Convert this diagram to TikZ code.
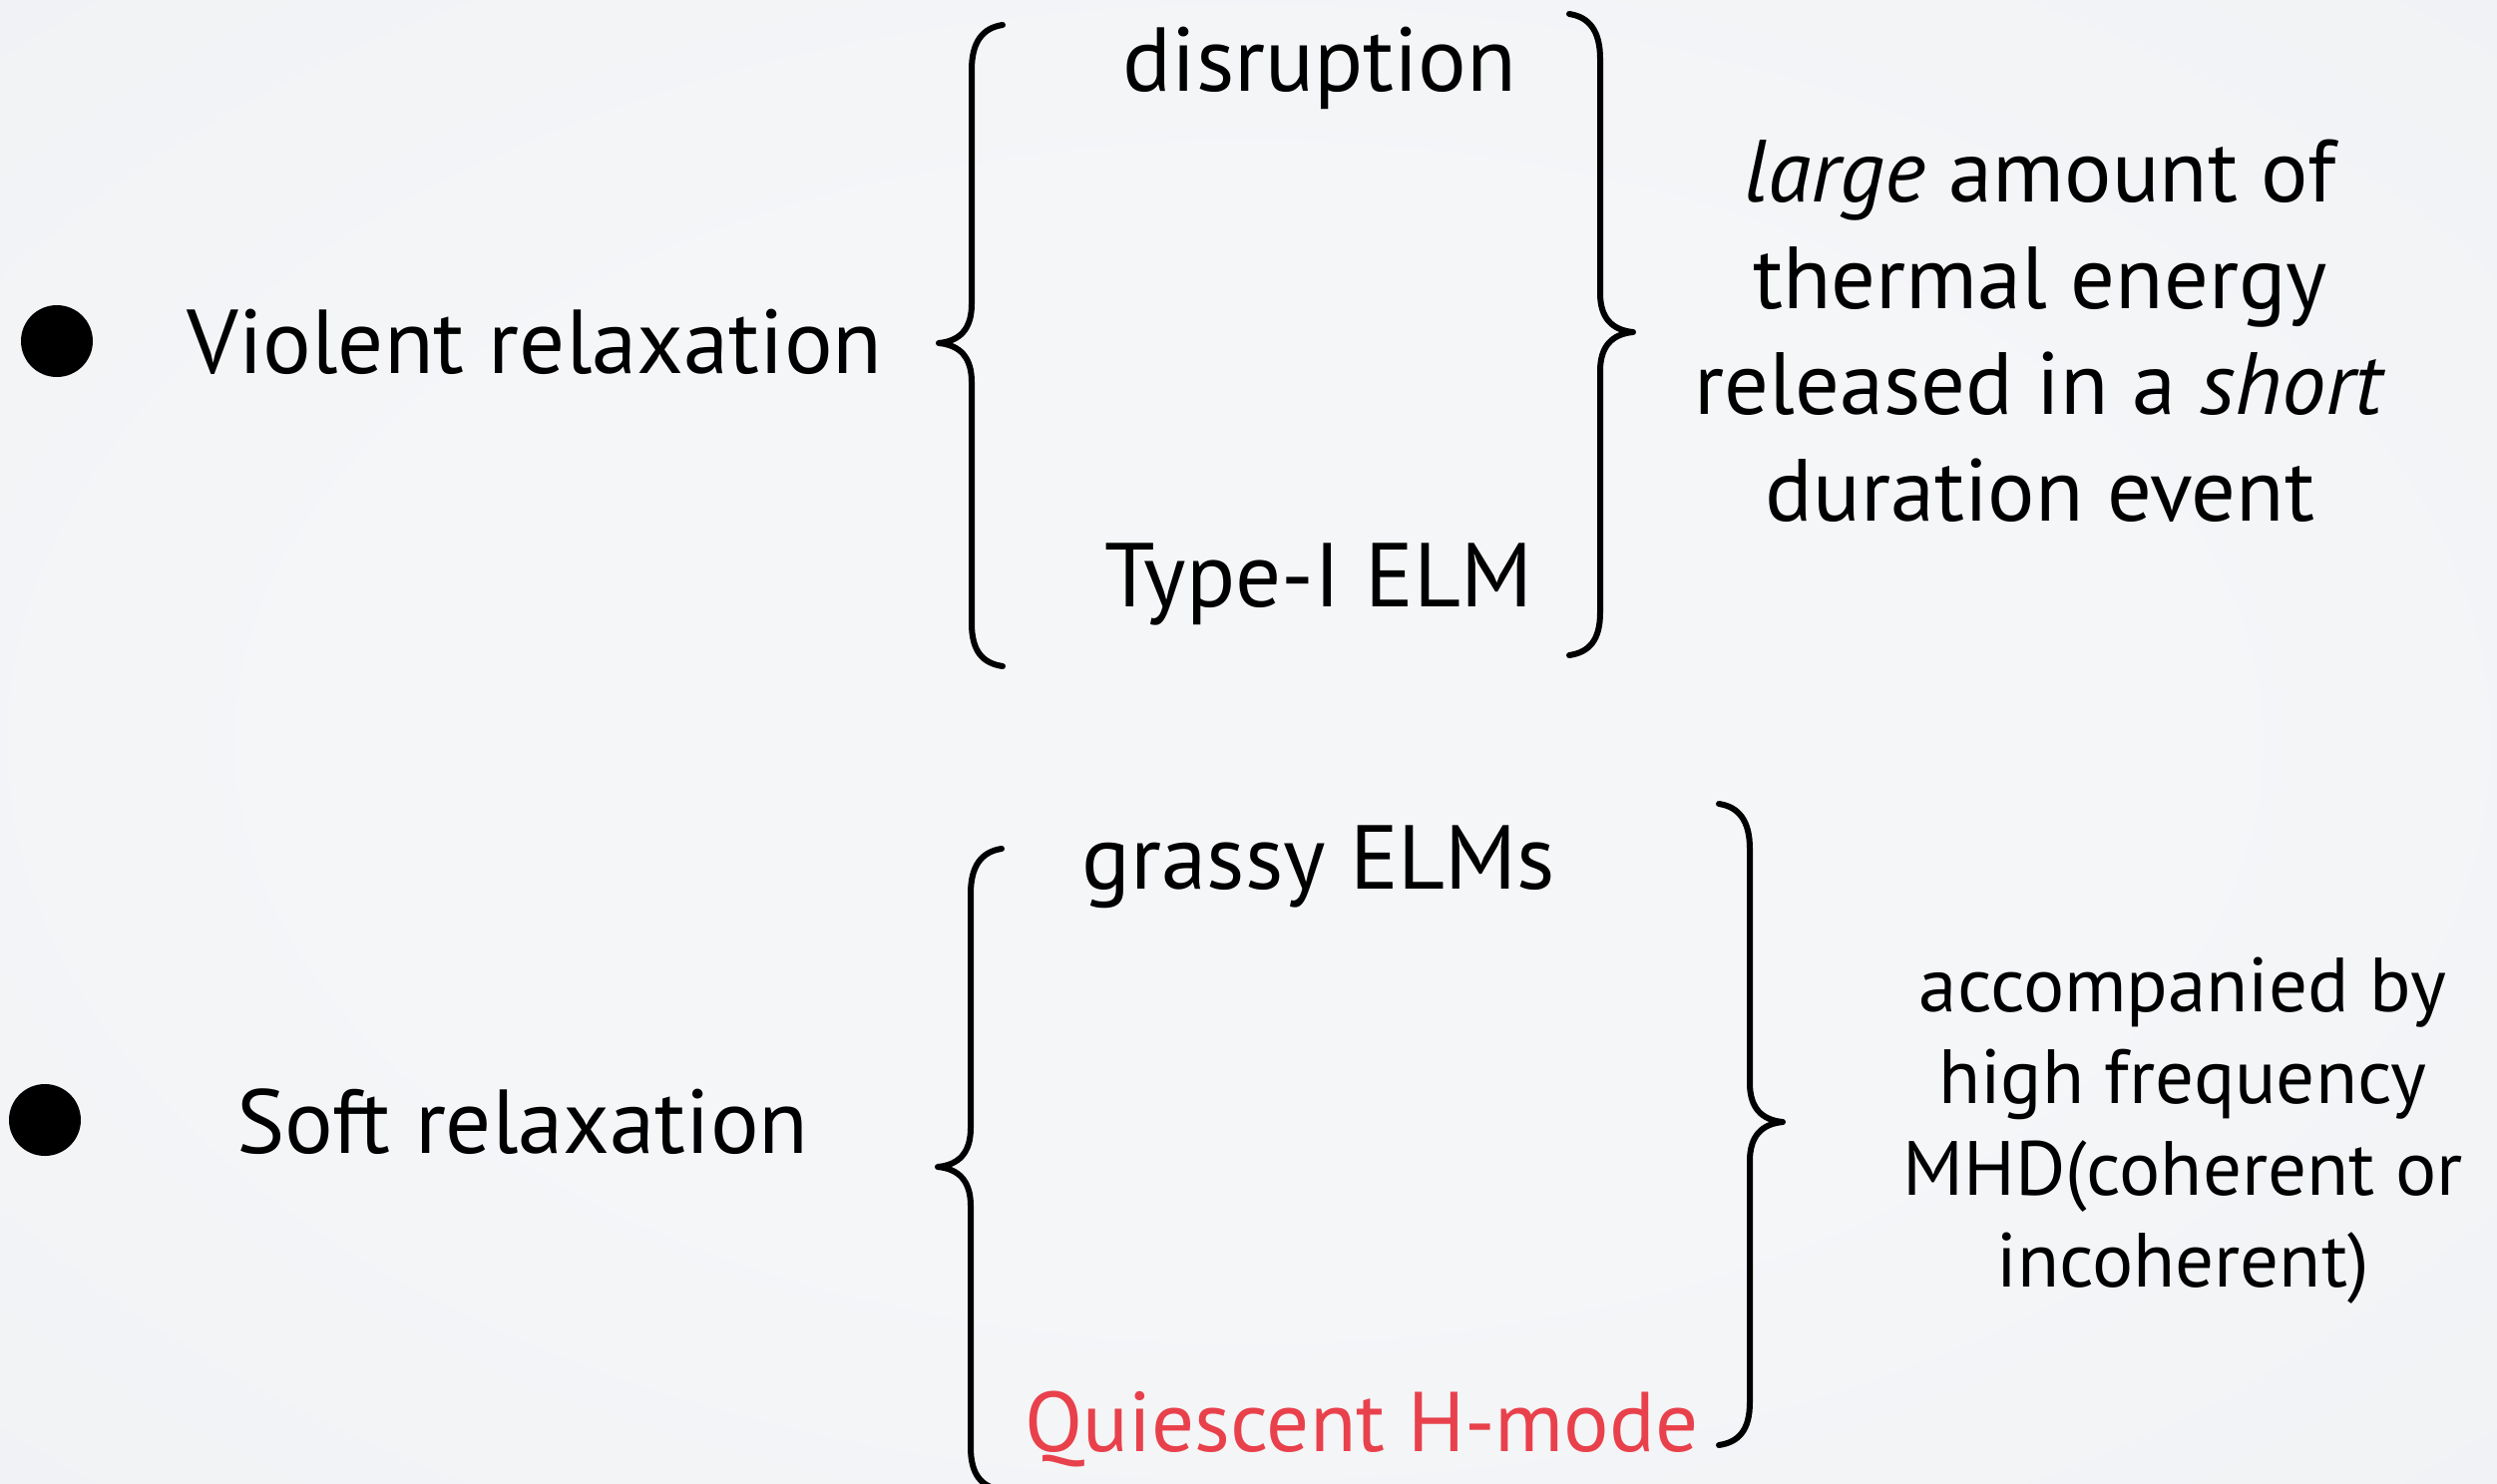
\documentclass[tikz,border=0pt]{standalone}
\usepackage{fontspec}
\setmainfont{PT Sans}
\definecolor{bgin}{RGB}{245,246,248}
\definecolor{bgmid}{RGB}{237,239,242}
\definecolor{bgout}{RGB}{226,229,232}
\definecolor{alertred}{RGB}{232,65,75}
\pgfdeclareradialshading{slidebg}{\pgfpoint{0bp}{0bp}}{%
  color(0bp)=(bgin); color(18bp)=(bgin); color(50bp)=(bgmid); color(72bp)=(bgout)}
\tikzset{
  x=1pt, y=-1pt,
  big/.style={font=\fontsize{91}{107}\selectfont, inner sep=0pt, text=black},
  side/.style={font=\fontsize{88.5}{106.5}\selectfont, inner sep=0pt, align=center, text=black},
  sidesmall/.style={font=\fontsize{77}{92}\selectfont, inner sep=0pt, align=center, text=black},
  bulletdot/.style={circle, fill=black, minimum size=72pt, inner sep=0pt},
  bracestroke/.style={line width=6pt, line cap=round, line join=round, black},
  curly/.pic={
    \draw[bracestroke] (64,-319) .. controls (44,-316) and (33,-302) .. (33,-274)
      -- (33,-39) .. controls (33,-14) and (21,-2) .. (0,0)
      .. controls (21,2) and (33,14) .. (33,39)
      -- (33,281) .. controls (33,309) and (44,321) .. (64,324);
  }
}
\begin{document}
\begin{tikzpicture}
% slide background
\shade[shading=slidebg] (0,0) rectangle (2503,1488);
\useasboundingbox (0,0) rectangle (2503,1488);

% first group: violent relaxation
\node[bulletdot] (b1) at (57,342) {};
\node[big, anchor=base] (violent) at (536,374) {Violent relaxation};
\pic at (941,344) {curly};
\node[big, anchor=base] (disr) at (1323,92) {disruption};
\node[big, anchor=base] (type1) at (1322,608) {Type-I ELM};
\pic[xscale=-1] at (1637,333) {curly};
% multi-line nodes sit on the baseline of their last line
\node[side, anchor=base] (large) at (2045,522)
  {\textit{large} amount of\\thermal energy\\released in a \textit{short}\\duration event};

% second group: soft relaxation
\node[bulletdot] (b2) at (45,1123) {};
\node[big, anchor=base] (soft) at (524,1156) {Soft relaxation};
\pic at (940,1170) {curly};
\node[big, anchor=base] (grassy) at (1322,891) {grassy ELMs};
\node[big, anchor=base, text=alertred, font=\fontsize{85}{100}\selectfont] (qh) at (1365,1455) {Quiescent H-mode};
\pic[xscale=-1] at (1787,1125) {curly};
\node[sidesmall, anchor=base] (mhd) at (2188,1290)
  {accompanied by\\high frequency\\MHD(coherent or\\incoherent)};
\end{tikzpicture}
\end{document}
